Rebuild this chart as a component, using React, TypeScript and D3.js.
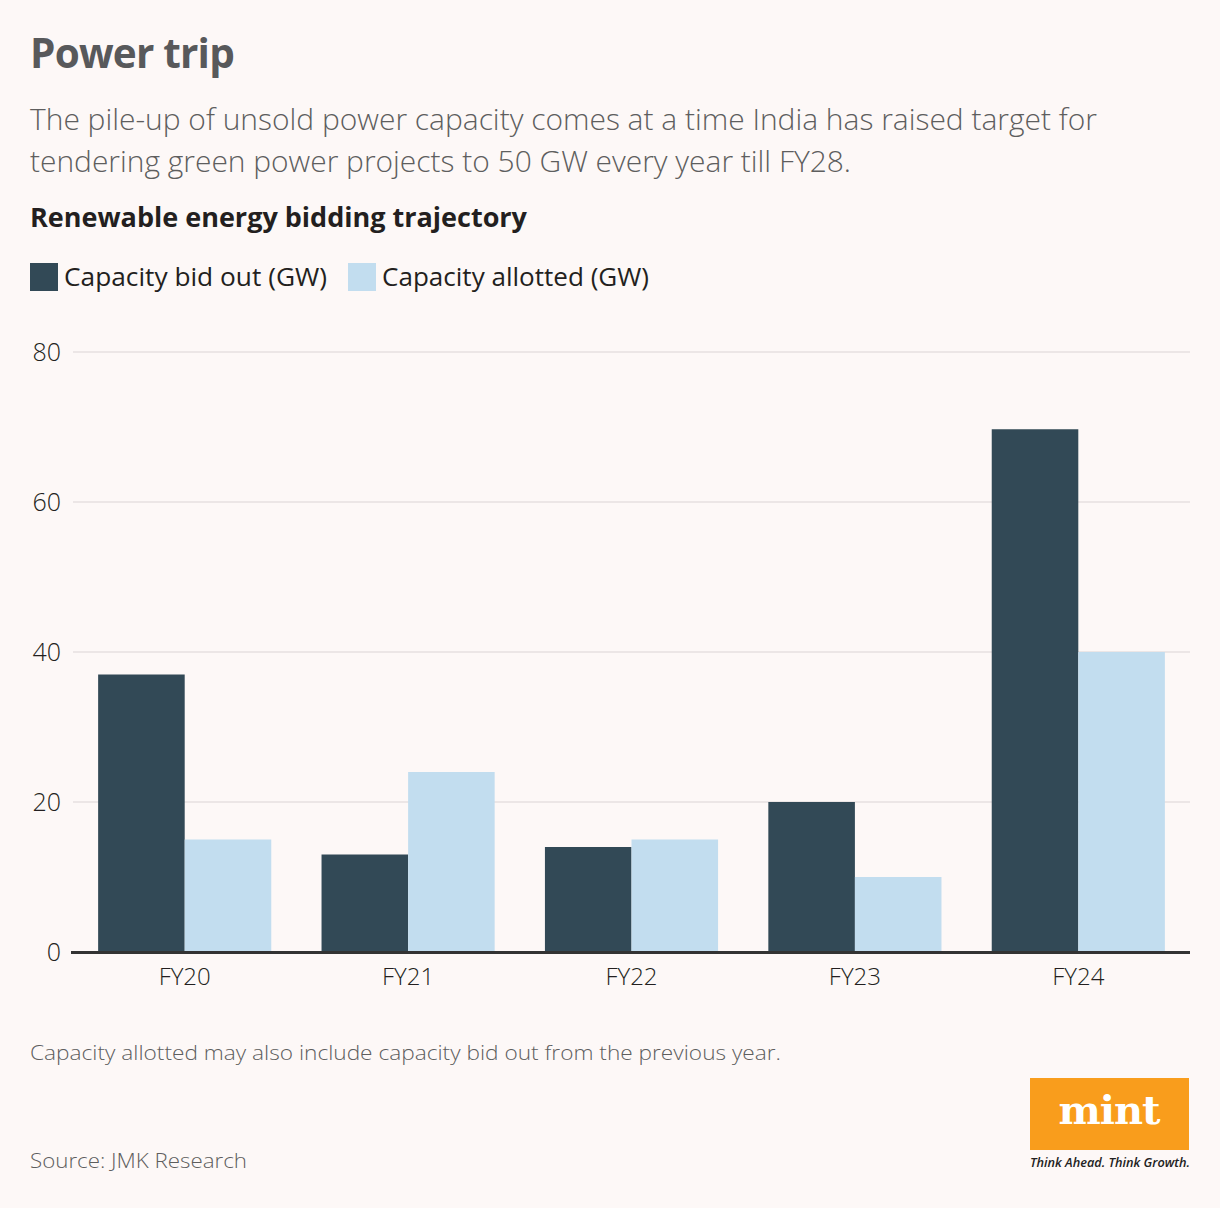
import React, { useEffect, useRef } from 'react';
import * as d3 from 'd3';

const years = ['FY20', 'FY21', 'FY22', 'FY23', 'FY24'];
const bidOut = [37, 13, 14, 20, 69.7];
const allotted = [15, 24, 15, 10, 40];
const yTicks = [0, 20, 40, 60, 80];
const seriesNames = ['Capacity bid out (GW)', 'Capacity allotted (GW)'];

const W = 1220;
const H = 1208;
const FONT = '"Open Sans", "Noto Sans", sans-serif';
const DARK = '#324956';
const LIGHT = '#c2ddef';

const App = () => {
  const ref = useRef<SVGSVGElement>(null);

  useEffect(() => {
    document.body.style.margin = '0';
    const svg = d3.select(ref.current);
    svg.selectAll('*').remove();

    svg.append('rect').attr('width', W).attr('height', H).attr('fill', '#fdf8f7');

    // headings
    svg.append('text')
      .attr('x', 30).attr('y', 68)
      .attr('font-family', FONT).attr('font-weight', 700).attr('font-size', 40.5)
      .attr('fill', '#58595b').attr('letter-spacing', -0.8)
      .text('Power trip');

    const sub = [
      'The pile-up of unsold power capacity comes at a time India has raised target for',
      'tendering green power projects to 50 GW every year till FY28.'
    ];
    const subLen = [1067, 821];
    sub.forEach((s, i) => {
      svg.append('text')
        .attr('x', 30).attr('y', 130 + i * 42)
        .attr('font-family', FONT).attr('font-weight', 300).attr('font-size', 29.5)
        .attr('fill', '#5e5e5e')
        .attr('textLength', subLen[i]).attr('lengthAdjust', 'spacingAndGlyphs')
        .text(s);
    });

    svg.append('text')
      .attr('x', 30).attr('y', 227)
      .attr('font-family', FONT).attr('font-weight', 700).attr('font-size', 26.5)
      .attr('fill', '#231f20')
      .attr('textLength', 497).attr('lengthAdjust', 'spacingAndGlyphs')
      .text('Renewable energy bidding trajectory');

    // legend
    const legendX = [30, 348];
    const legendLen = [263, 267];
    [DARK, LIGHT].forEach((c, i) => {
      svg.append('rect')
        .attr('x', legendX[i]).attr('y', 263).attr('width', 28).attr('height', 28)
        .attr('fill', c);
      svg.append('text')
        .attr('x', legendX[i] + 34).attr('y', 286)
        .attr('font-family', FONT).attr('font-weight', 400).attr('font-size', 26)
        .attr('fill', '#231f20')
        .attr('textLength', legendLen[i]).attr('lengthAdjust', 'spacingAndGlyphs')
        .text(seriesNames[i]);
    });

    // scales
    const x0 = d3.scaleBand().domain(years).range([73, 1190]).paddingInner(0.225).paddingOuter(0.1125);
    const x1 = d3.scaleBand().domain(['bid', 'allot']).range([0, x0.bandwidth()]);
    const y = d3.scaleLinear().domain([0, 80]).range([952, 352]);

    // gridlines + y labels
    const yAxis = svg.append('g');
    yTicks.forEach(t => {
      if (t > 0) {
        yAxis.append('line')
          .attr('x1', 73).attr('x2', 1190)
          .attr('y1', y(t)).attr('y2', y(t))
          .attr('stroke', '#e6e1e0').attr('stroke-width', 1.5);
      }
      yAxis.append('text')
        .attr('x', 61).attr('y', y(t)).attr('dy', '0.35em')
        .attr('text-anchor', 'end')
        .attr('font-family', FONT).attr('font-weight', 300).attr('font-size', 25).attr('fill', '#231f20')
        .text(t);
    });

    // bars
    const groups = svg.append('g').selectAll('g')
      .data(years)
      .join('g')
      .attr('transform', d => `translate(${x0(d)},0)`);

    groups.append('rect')
      .attr('x', x1('bid')!)
      .attr('width', x1.bandwidth())
      .attr('y', (d, i) => y(bidOut[i]))
      .attr('height', (d, i) => y(0) - y(bidOut[i]))
      .attr('fill', DARK);

    groups.append('rect')
      .attr('x', x1('allot')!)
      .attr('width', x1.bandwidth())
      .attr('y', (d, i) => y(allotted[i]))
      .attr('height', (d, i) => y(0) - y(allotted[i]))
      .attr('fill', LIGHT);

    // baseline
    svg.append('line')
      .attr('x1', 71).attr('x2', 1190)
      .attr('y1', y(0) + 0.5).attr('y2', y(0) + 0.5)
      .attr('stroke', '#333').attr('stroke-width', 3);

    // x labels
    svg.append('g').selectAll('text')
      .data(years)
      .join('text')
      .attr('x', d => x0(d)! + x0.bandwidth() / 2)
      .attr('y', 985)
      .attr('text-anchor', 'middle')
      .attr('font-family', FONT).attr('font-weight', 300).attr('font-size', 24).attr('fill', '#231f20')
      .text(d => d);

    // footer
    svg.append('text')
      .attr('x', 30).attr('y', 1060)
      .attr('font-family', FONT).attr('font-weight', 300).attr('font-size', 21)
      .attr('fill', '#5e5e5e')
      .attr('textLength', 751).attr('lengthAdjust', 'spacingAndGlyphs')
      .text('Capacity allotted may also include capacity bid out from the previous year.');

    svg.append('text')
      .attr('x', 30).attr('y', 1168)
      .attr('font-family', FONT).attr('font-weight', 300).attr('font-size', 21)
      .attr('fill', '#5e5e5e')
      .attr('textLength', 217).attr('lengthAdjust', 'spacingAndGlyphs')
      .text('Source: JMK Research');

    // mint logo
    svg.append('rect')
      .attr('x', 1030).attr('y', 1078).attr('width', 159).attr('height', 72)
      .attr('fill', '#f99d1c');
    svg.append('text')
      .attr('x', 1109).attr('y', 1124)
      .attr('text-anchor', 'middle')
      .attr('font-family', '"DejaVu Serif", serif').attr('font-weight', 700).attr('font-size', 40)
      .attr('fill', '#fff').attr('letter-spacing', -1)
      .text('mint');
    svg.append('text')
      .attr('x', 1030).attr('y', 1167)
      .attr('font-family', FONT).attr('font-style', 'italic').attr('font-weight', 600).attr('font-size', 12.5)
      .attr('fill', '#222')
      .attr('textLength', 160).attr('lengthAdjust', 'spacingAndGlyphs')
      .text('Think Ahead. Think Growth.');
  }, []);

  return <svg ref={ref} width={W} height={H} style={{ display: 'block' }} />;
};

export default App;
